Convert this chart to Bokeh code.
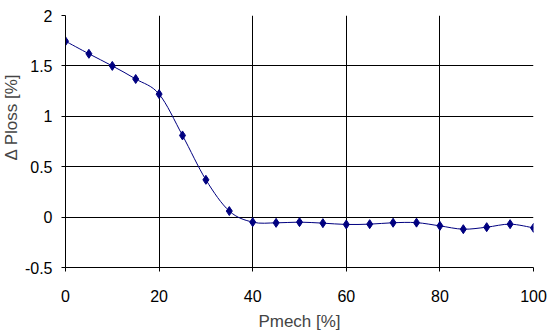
import numpy as np
from bokeh.plotting import figure
from bokeh.models import Range1d, FixedTicker, Title
from bokeh.embed import file_html
from bokeh.resources import INLINE

pmech = [0, 5, 10, 15, 20, 25, 30, 35, 40, 45, 50, 55, 60, 65, 70, 75, 80, 85, 90, 95, 100]
dploss = [1.745, 1.62, 1.50, 1.37, 1.22, 0.81, 0.37, 0.06, -0.05, -0.057, -0.05, -0.06,
          -0.073, -0.07, -0.056, -0.055, -0.087, -0.12, -0.10, -0.07, -0.107]
x_ticks = [0, 20, 40, 60, 80, 100]
x_tick_labels = ["0", "20", "40", "60", "80", "100"]
y_ticks = [-0.5, 0, 0.5, 1, 1.5, 2]
y_tick_labels = ["-0.5", "0", "0.5", "1", "1.5", "2"]
x_title = "Pmech [%]"
y_title = "\u0394 Ploss [%]"

FONT = "Liberation Sans"
NAVY = "#000080"

p = figure(width=548, height=334, output_backend="svg", toolbar_location=None,
           x_range=Range1d(0, 100), y_range=Range1d(-0.5, 2),
           min_border_left=65, min_border_right=15, min_border_top=15, min_border_bottom=67)
p.outline_line_color = None
p.background_fill_color = "white"
p.border_fill_color = "white"

for ax, ticks, labels in ((p.xaxis[0], x_ticks, x_tick_labels), (p.yaxis[0], y_ticks, y_tick_labels)):
    ax.ticker = FixedTicker(ticks=ticks)
    ax.major_label_overrides = {t: l for t, l in zip(ticks, labels)}
    ax.minor_tick_line_color = None
    ax.major_tick_in = 0
    ax.major_tick_out = 4
    ax.axis_line_color = "black"
    ax.major_tick_line_color = "black"
    ax.major_label_text_font = FONT
    ax.major_label_text_font_size = "16px"
    ax.major_label_text_color = "black"

p.xaxis.major_label_standoff = 18
p.xaxis.axis_label = x_title
p.xaxis.axis_label_text_font = FONT
p.xaxis.axis_label_text_font_size = "17px"
p.xaxis.axis_label_text_font_style = "normal"
p.xaxis.axis_label_standoff = 7
p.yaxis.major_label_standoff = 9

for g in (p.xgrid[0], p.ygrid[0]):
    g.grid_line_color = "black"
    g.grid_line_width = 1

t = Title(text=y_title, align="left", offset=107, vertical_align="top",
          text_font=FONT, text_font_size="17px", text_font_style="normal", standoff=-3)
p.add_layout(t, "left")

# Excel-like smoothed line via cubic Bezier segments derived from the data
xs = np.array(pmech, dtype=float)
ys = np.array(dploss, dtype=float)
n = len(xs)
xp = np.concatenate([[xs[0]], xs, [xs[-1]]])
yp = np.concatenate([[ys[0]], ys, [ys[-1]]])
i = np.arange(n - 1)
cx0 = xs[:-1] + (xp[i + 2] - xp[i]) / 6
cy0 = ys[:-1] + (yp[i + 2] - yp[i]) / 6
cx1 = xs[1:] - (xp[i + 3] - xp[i + 1]) / 6
cy1 = ys[1:] - (yp[i + 3] - yp[i + 1]) / 6
p.bezier(x0=xs[:-1], y0=ys[:-1], x1=xs[1:], y1=ys[1:], cx0=cx0, cy0=cy0, cx1=cx1, cy1=cy1,
         line_color=NAVY, line_width=1)
p.scatter(pmech, dploss, marker="diamond", size=9, color=NAVY)

open("out.html", "w").write(file_html(p, INLINE))
